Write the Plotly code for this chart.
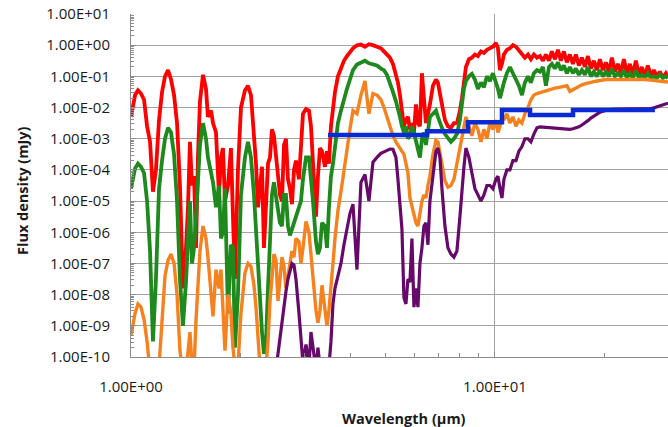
import numpy as np
import plotly.graph_objects as go

# Shared wavelength grid of the model spectra (micron)
wavelength_um = [
    1.000, 1.013, 1.026, 1.045, 1.065, 1.086, 1.107, 1.128, 1.149, 1.171,
    1.194, 1.217, 1.240, 1.264, 1.288, 1.313, 1.338, 1.363, 1.389, 1.416,
    1.434, 1.452, 1.471, 1.490, 1.509, 1.528, 1.547, 1.577, 1.607, 1.627,
    1.659, 1.680, 1.712, 1.745, 1.767, 1.789, 1.812, 1.847, 1.882, 1.906,
    1.930, 1.967, 2.005, 2.056, 2.096, 2.136, 2.177, 2.205, 2.233, 2.261,
    2.290, 2.319, 2.349, 2.379, 2.409, 2.439, 2.470, 2.502, 2.534, 2.566,
    2.599, 2.632, 2.665, 2.699, 2.734, 2.768, 2.804, 2.839, 2.894, 2.930,
    2.968, 3.025, 3.083, 3.122, 3.162, 3.222, 3.263, 3.305, 3.347, 3.411,
    3.454, 3.498, 3.543, 3.588, 3.634, 3.703, 3.774, 3.846, 3.920, 3.995,
    4.072, 4.176, 4.283, 4.393, 4.505, 4.621, 4.739, 4.860, 4.954, 5.049,
    5.145, 5.244, 5.344, 5.412, 5.481, 5.551, 5.621, 5.693, 5.766, 5.839,
    5.913, 5.988, 6.065, 6.142, 6.220, 6.299, 6.379, 6.461, 6.543, 6.626,
    6.753, 6.883, 6.970, 7.059, 7.149, 7.286, 7.425, 7.567, 7.712, 7.860,
    8.010, 8.112, 8.216, 8.320, 8.480, 8.642, 8.808, 8.977, 9.148, 9.324,
    9.502, 9.684, 9.870, 10.06, 10.19, 10.32, 10.45, 10.58, 10.78, 10.99,
    11.20, 11.42, 11.63, 11.86, 12.08, 12.32, 12.55, 12.79, 13.04, 13.29,
    13.54, 13.80, 14.07, 14.33, 14.61, 14.89, 15.17, 15.46, 15.76, 16.06,
    16.37, 16.68, 17.00, 17.33, 17.66, 18.00, 18.34, 18.69, 19.05, 19.42,
    19.79, 20.17, 20.56, 20.95, 21.35, 21.76, 22.17, 22.60, 23.03, 23.47,
    23.92, 24.38, 24.85, 25.32, 25.81, 26.30, 26.81, 27.32, 27.85, 28.38,
    28.92, 29.48, 29.87,
]

# log10 of flux density (mJy), one list per model
red_log_flux = [
    -2.3, -1.9, -1.6, -1.45, -1.55, -1.75, -2.6, -3.1, -4.7, -4.0,
    -2.4, -1.5, -1.0, -0.8, -1.1, -1.6, -2.5, -4.5, -7.8, -6.5,
    -5.2, -3.1, -4.5, -4.2, -6.5, -3.5, -1.8, -0.95, -1.4, -2.3,
    -2.1, -2.5, -2.8, -4.8, -3.6, -3.3, -5.0, -4.5, -3.3, -5.5,
    -7.5, -4.0, -2.0, -1.45, -1.3, -1.6, -3.0, -3.8, -5.2, -4.5,
    -3.9, -6.5, -5.0, -3.8, -3.6, -2.7, -2.9, -3.5, -4.2, -4.8,
    -5.0, -3.2, -3.0, -4.3, -4.6, -5.1, -4.0, -3.7, -4.3, -3.0,
    -2.2, -2.05, -2.1, -2.6, -4.0, -5.5, -4.2, -3.3, -3.4, -3.9,
    -3.4, -3.8, -2.6, -1.9, -1.5, -1.0, -0.75, -0.5, -0.35, -0.2,
    -0.1, 0.0, 0.02, -0.05, 0.03, 0.0, -0.05, -0.1, -0.2, -0.3,
    -0.4, -0.6, -0.9, -1.2, -1.6, -2.1, -2.6, -2.4, -2.3, -2.7,
    -2.5, -2.8, -1.9, -2.5, -2.6, -0.9, -1.8, -2.5, -2.2, -1.9,
    -1.3, -1.1, -1.2, -1.5, -1.9, -2.4, -2.6, -2.65, -2.5, -2.5,
    -2.1, -1.7, -1.1, -0.7, -0.45, -0.4, -0.3, -0.35, -0.2, -0.25,
    -0.15, -0.1, -0.05, 0.07, -0.1, -0.8, -0.6, -0.3, -0.15, -0.1,
    0.0, -0.05, -0.15, -0.3, -0.4, -0.3, -0.45, -0.3, -0.4, -0.35,
    -0.5, -0.3, -0.5, -0.2, -0.45, -0.15, -0.5, -0.2, -0.55, -0.3,
    -0.6, -0.3, -0.65, -0.4, -0.7, -0.35, -0.75, -0.5, -0.8, -0.45,
    -0.8, -0.55, -0.85, -0.4, -0.85, -0.6, -0.9, -0.45, -0.9, -0.6,
    -0.95, -0.5, -0.95, -0.7, -1.0, -0.65, -1.0, -0.8, -1.0, -0.85,
    -1.05, -0.9, -1.0,
]

green_log_flux = [
    -4.6, -4.2, -3.95, -3.8, -3.9, -4.1, -5.0, -6.6, -9.5, -7.5,
    -4.6, -3.7, -3.0, -2.65, -2.8, -3.5, -5.0, -7.5, -9.0, -7.6,
    -6.0, -5.0, -7.0, -6.5, -5.5, -4.5, -3.2, -2.5, -3.0, -3.6,
    -4.1, -4.4, -5.2, -4.5, -6.2, -6.0, -4.6, -8.6, -6.4, -6.5,
    -9.7, -8.0, -4.8, -3.6, -3.1, -3.6, -4.8, -6.0, -7.3, -8.5,
    -9.2, -9.9, -9.5, -7.8, -6.2, -4.8, -4.4, -4.9, -5.4, -5.7,
    -5.8, -4.8, -4.8, -5.8, -6.1, -5.9, -5.7, -5.5, -5.2, -5.0,
    -4.3, -3.6, -3.6, -4.2, -5.0, -6.3, -6.7, -6.5, -5.7, -5.8,
    -6.5, -5.2, -4.2, -3.8, -3.3, -2.5, -2.1, -1.7, -1.4, -1.1,
    -0.8, -0.62, -0.57, -0.5, -0.58, -0.6, -0.65, -0.75, -0.8, -0.95,
    -1.2, -1.5, -1.8, -2.0, -2.3, -2.6, -2.8, -2.6, -3.0, -2.9,
    -2.6, -2.8, -3.1, -3.4, -3.6, -3.0, -2.8, -3.2, -2.7, -2.3,
    -2.2, -2.1, -2.3, -2.5, -2.65, -2.85, -3.0, -3.1, -3.0, -2.85,
    -2.4, -1.9, -1.4, -1.15, -1.0, -0.92, -1.1, -1.4, -1.2, -1.35,
    -1.0, -1.15, -0.9, -1.2, -1.4, -1.7, -1.4, -1.2, -0.9, -0.7,
    -0.9, -1.1, -1.3, -1.6, -1.2, -1.0, -1.2, -0.9, -0.8, -0.85,
    -0.7, -1.3, -0.7, -0.6, -0.75, -0.55, -0.8, -0.65, -0.9, -0.7,
    -0.9, -0.75, -0.95, -0.8, -0.95, -0.7, -1.0, -0.85, -1.0, -0.8,
    -1.0, -0.85, -1.0, -0.75, -1.0, -0.9, -1.0, -0.8, -1.05, -0.9,
    -1.05, -0.8, -1.05, -0.95, -1.05, -0.9, -1.05, -1.0, -1.05, -0.95,
    -1.05, -1.0, -1.05,
]

orange_log_flux = [
    -9.3, -8.9, -8.6, -8.3, -8.4, -8.8, -9.5, -10.5, -10.5, -10.5,
    -10.3, -8.8, -7.4, -6.9, -6.7, -7.0, -8.0, -9.8, -10.5, -10.5,
    -9.8, -9.2, -10.3, -10.4, -8.8, -7.8, -6.6, -5.8, -6.2, -6.8,
    -8.0, -8.7, -7.2, -7.8, -7.2, -8.3, -9.8, -8.0, -8.6, -9.7,
    -10.3, -10.3, -8.6, -7.3, -7.0, -7.1, -7.7, -8.4, -9.5, -10.3,
    -10.5, -10.5, -10.3, -9.5, -8.2, -7.3, -6.7, -6.9, -8.2, -7.5,
    -6.8, -7.1, -7.8, -7.4, -6.9, -6.6, -6.8, -6.2, -6.3, -7.0,
    -6.5, -5.65, -6.0, -6.8, -7.4, -8.5, -8.9, -8.5, -7.7, -8.6,
    -9.0, -8.5, -7.6, -7.0, -6.2, -5.3, -4.7, -4.0, -3.3, -2.7,
    -2.1, -2.2, -1.6, -1.15, -2.2, -1.55, -1.6, -1.75, -2.0, -2.3,
    -2.6, -2.9, -3.1, -3.2, -3.3, -3.4, -3.5, -3.8, -4.1, -4.9,
    -5.2, -5.4, -5.7, -5.8, -5.4, -5.0, -4.8, -4.9, -4.5, -4.2,
    -3.5, -3.05, -3.1, -3.5, -3.9, -4.35, -4.55, -4.5, -4.3, -3.8,
    -3.3, -2.9, -2.5, -2.3, -2.6, -2.9, -2.5, -2.7, -3.1, -2.7,
    -3.0, -2.5, -2.7, -2.4, -2.8, -2.6, -2.3, -2.4, -2.2, -2.5,
    -2.3, -2.6, -2.4, -2.5, -2.2, -2.0, -1.75, -1.6, -1.55, -1.52,
    -1.5, -1.45, -1.42, -1.4, -1.38, -1.36, -1.34, -1.32, -1.3, -1.48,
    -1.42, -1.36, -1.3, -1.27, -1.24, -1.21, -1.19, -1.17, -1.15, -1.13,
    -1.12, -1.1, -1.1, -1.1, -1.1, -1.1, -1.09, -1.09, -1.08, -1.08,
    -1.08, -1.08, -1.09, -1.1, -1.1, -1.11, -1.12, -1.13, -1.14, -1.15,
    -1.16, -1.17, -1.18,
]

purple_log_flux = [
    None, None, None, None, None, None, None, None, None, None,
    None, None, None, None, None, None, None, None, None, None,
    None, None, None, None, None, None, None, None, None, None,
    None, None, None, None, None, None, None, None, None, None,
    None, None, None, None, None, None, None, None, None, None,
    None, None, None, None, None, None, -10.6, -10.4, -9.9, -9.35,
    -8.8, -8.3, -7.9, -7.5, -7.2, -7.0, -7.05, -7.5, -8.6, -9.4,
    -10.2, -9.6, -10.3, -9.2, -9.8, -10.4, -9.7, -10.3, -10.5, -10.4,
    -10.4, -10.3, -9.5, -8.3, -7.8, -7.4, -7.0, -6.4, -5.9, -5.4,
    -5.1, -7.2, -4.4, -4.15, -5.0, -3.75, -3.6, -3.47, -3.42, -3.37,
    -3.33, -3.34, -3.6, -4.3, -5.0, -5.9, -8.1, -8.3, -7.5, -7.6,
    -6.2, -8.4, -7.8, -8.4, -7.0, -6.5, -5.8, -5.7, -6.4, -5.0,
    -4.2, -3.4, -3.3, -3.6, -4.6, -5.8, -6.5, -6.7, -6.8, -6.6,
    -5.5, -4.6, -3.9, -3.3, -3.6, -4.1, -4.6, -4.8, -5.0, -4.8,
    -4.5, -4.5, -4.6, -4.3, -4.2, -4.6, -4.9, -4.3, -4.0, -4.0,
    -3.7, -3.7, -3.4, -3.25, -3.0, -3.0, -3.1, -2.85, -2.65, -2.62,
    -2.63, -2.63, -2.64, -2.65, -2.66, -2.67, -2.68, -2.69, -2.7, -2.7,
    -2.68, -2.65, -2.62, -2.56, -2.5, -2.42, -2.34, -2.28, -2.2, -2.15,
    -2.12, -2.09, -2.07, -2.06, -2.05, -2.05, -2.05, -2.05, -2.05, -2.04,
    -2.04, -2.04, -2.04, -2.04, -2.04, -2.03, -2.03, -2.01, -1.98, -1.95,
    -1.91, -1.88, -1.86,
]

# Blue: stepped (binned) sensitivity curve
blue_wavelength_um = [3.477, 6.505, 8.43, 10.45, 12.48, 16.38, 27.5]
blue_log_flux = [-2.88, -2.76, -2.47, -2.08, -2.24, -2.08, -2.08]

y_tick_exponents = [1, 0, -1, -2, -3, -4, -5, -6, -7, -8, -9, -10]
y_tick_labels = ["1.00E+01", "1.00E+00", "1.00E-01", "1.00E-02", "1.00E-03",
                 "1.00E-04", "1.00E-05", "1.00E-06", "1.00E-07", "1.00E-08",
                 "1.00E-09", "1.00E-10"]
x_tick_values = [1, 10]
x_tick_labels = ["1.00E+00", "1.00E+01"]

for arr in (red_log_flux, green_log_flux, orange_log_flux, purple_log_flux):
    assert len(arr) == len(wavelength_um), len(arr)


def to_flux(logs):
    return [None if v is None else 10 ** v for v in logs]


series = [
    (red_log_flux, "#FF0000", 3.8),
    (green_log_flux, "#1E8A1E", 3.8),
    (orange_log_flux, "#F5821F", 3.4),
    (purple_log_flux, "#66096B", 3.2),
]

fig = go.Figure()
for logs, color, w in series:
    fig.add_trace(go.Scatter(x=wavelength_um, y=to_flux(logs), mode="lines",
                             line=dict(color=color, width=w), connectgaps=False,
                             hoverinfo="skip"))
fig.add_trace(go.Scatter(x=blue_wavelength_um, y=to_flux(blue_log_flux), mode="lines",
                         line=dict(color="#0A2AD6", width=4.5, shape="hv"),
                         hoverinfo="skip"))

grid = "#A3A3A3"
axis_col = "#8C8C8C"
x_minor = [v * d for d in (1, 10) for v in range(2, 10)]
y_minor = [m * 10.0 ** e for e in range(-10, 1) for m in range(2, 10)]

fig.update_layout(
    width=668, height=427,
    margin=dict(l=131, r=0, t=14, b=70),
    paper_bgcolor="white", plot_bgcolor="white",
    showlegend=False,
    font=dict(family="Open Sans", size=15, color="#1a1a1a"),
    xaxis=dict(type="log", range=[0, 1.4753],
               tickvals=x_tick_values, ticktext=x_tick_labels,
               showgrid=True, gridcolor=grid, gridwidth=1,
               showline=True, linecolor=axis_col, linewidth=1,
               ticks="inside", ticklen=5, tickcolor=axis_col,
               ticklabelstandoff=16, zeroline=False,
               minor=dict(tickvals=x_minor, ticks="inside", ticklen=4,
                          tickcolor=axis_col, showgrid=False)),
    yaxis=dict(type="log", range=[-10, 1],
               tickvals=[10.0 ** e for e in y_tick_exponents], ticktext=y_tick_labels,
               showgrid=True, gridcolor=grid, gridwidth=1,
               showline=True, linecolor=axis_col, linewidth=1,
               ticks="inside", ticklen=5, tickcolor=axis_col,
               ticklabelstandoff=17, zeroline=False,
               minor=dict(tickvals=y_minor, ticks="inside", ticklen=3,
                          tickcolor=axis_col, showgrid=False)),
    annotations=[
        dict(text="<b>Flux density (mJy)</b>", xref="paper", yref="paper",
             x=-0.2011, y=0.484, xanchor="center", yanchor="middle",
             textangle=-90, showarrow=False, font=dict(size=14.5)),
        dict(text="<b>Wavelength (µm)</b>", xref="paper", yref="paper",
             x=0.5093, y=-0.178, xanchor="center", yanchor="middle",
             showarrow=False, font=dict(size=14.5)),
    ],
)

fig.write_html(
    "out.html",
    config={"displayModeBar": False},
    post_script="document.body.style.margin='0px';document.body.style.overflow='hidden';",
)
